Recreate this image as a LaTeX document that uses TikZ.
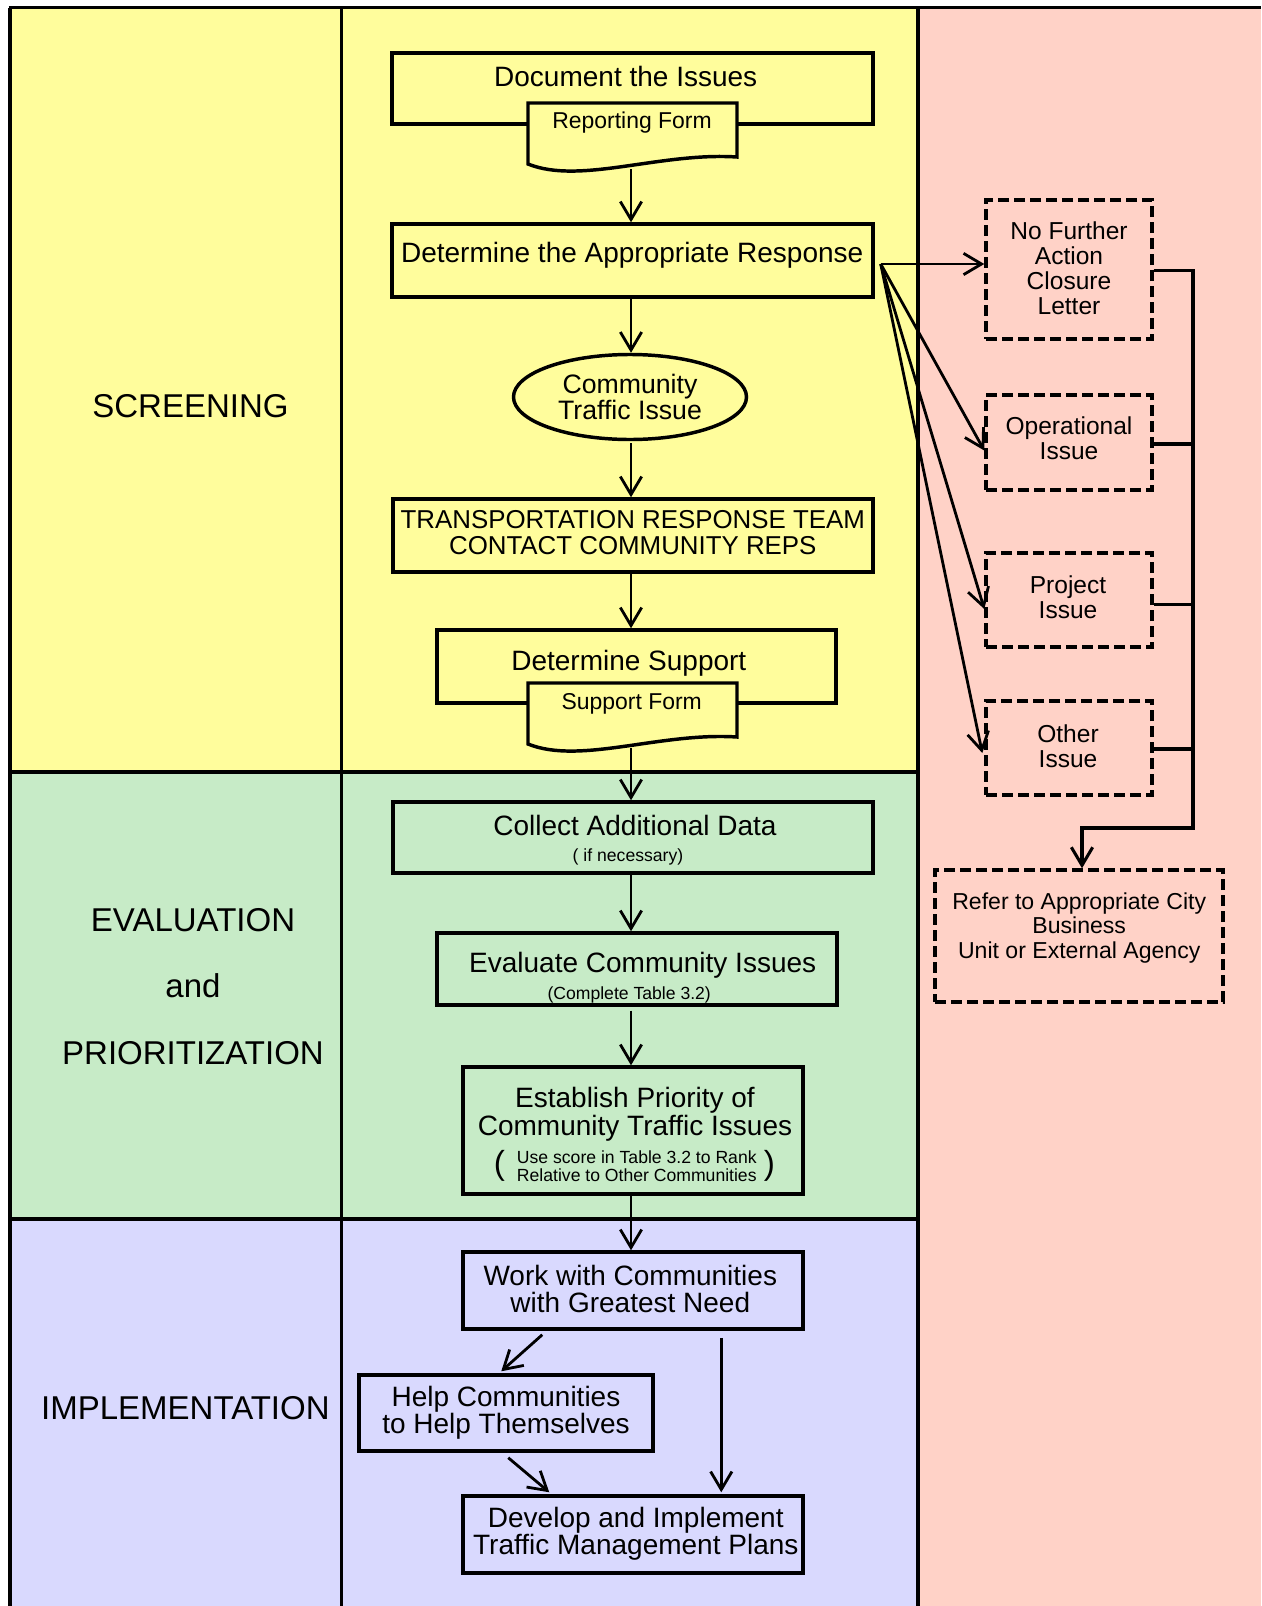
\documentclass[tikz,border=0pt]{standalone}
\usepackage{fontspec}
\setmainfont{Liberation Sans}[Ligatures=NoCommon]
\usetikzlibrary{arrows.meta,shapes.geometric,fit,calc}
\definecolor{cY}{HTML}{FFFD9C}
\definecolor{cG}{HTML}{C7EBC7}
\definecolor{cL}{HTML}{D9D9FE}
\definecolor{cP}{HTML}{FFD2C7}
\begin{document}
\begin{tikzpicture}[x=0.75pt,y=-0.75pt,
  frame/.style={line width=2.4pt},
  box/.style={draw, line width=2.6pt, inner sep=0pt},
  dbox/.style={draw, line width=2.6pt, dash pattern=on 8pt off 4pt, inner sep=0pt},
  arr/.style={line width=2.1pt, -{Straight Barb[length=13.5pt,width=16pt]}},
  conn/.style={line width=2.3pt},
  lbl/.style={font=\fontsize{24.75}{50}\selectfont, align=center, inner sep=0pt},
  mtxt/.style={font=\fontsize{21}{20.5}\selectfont, align=center, inner sep=0pt},
  ftxt/.style={font=\fontsize{17.2}{17.2}\selectfont, align=center, inner sep=0pt},
  stxt/.style={font=\fontsize{13.2}{13.3}\selectfont, align=center, inner sep=0pt},
  side/.style={font=\fontsize{18.4}{18.75}\selectfont, align=center, inner sep=0pt},
]
\useasboundingbox (0,0) rectangle (1261,1606);
% ---- backgrounds
\fill[cY] (10,7) rectangle (918,772);
\fill[cG] (10,772) rectangle (918,1219);
\fill[cL] (10,1219) rectangle (918,1606);
\fill[cP] (918,7) rectangle (1261,1606);
% ---- frame lines
\draw[frame] (8.5,7.5) -- (1261,7.5);
\draw[frame] (10,7.5) -- (10,1606);
\draw[frame] (341.5,7.5) -- (341.5,1606);
\draw[frame] (918,7.5) -- (918,1606);
\draw[frame] (10,772) -- (918,772);
\draw[frame] (10,1219) -- (918,1219);
% ---- phase labels
\node[lbl] (lscr) at (190.5,405.7) {SCREENING};
\node[lbl] (leval) at (193,986.5) {EVALUATION\\and\\PRIORITIZATION};
\node[lbl] (limp) at (185.4,1408.5) {IMPLEMENTATION};
% ---- main column boxes
\coordinate (ax) at (631,0);
\node[box, fit={(392,53) (873,124)}] (b1) {};
\draw[line width=2.6pt, fill=cY] (528,103) -- (737,103) -- (737,157)
   .. controls (660,152) and (580,185) .. (528,164) -- cycle;
\node[fit={(528,103) (737,164)}, inner sep=0pt] (rf) {};
\node[mtxt] (t1) at (625.7,76.7) {Document the Issues};
\node[ftxt] (t1f) at (632,123) {Reporting Form};

\node[box, fit={(392,224) (873,297)}] (b2) {};
\node[mtxt] (t2) at (632.2,255.3) {Determine the Appropriate Response};

\node[ellipse, draw, line width=2.6pt, minimum width=233*0.75pt, minimum height=85*0.75pt, inner sep=0pt,
      font=\fontsize{20}{20}\selectfont, align=center] (ell) at (630,397) {Community\\Traffic Issue};

\node[box, fit={(393,499) (873,572)}] (b3) {};
\node[font=\fontsize{19.4}{19.5}\selectfont, align=center, inner sep=0pt] (t3) at (632.8,533)
   {TRANSPORTATION RESPONSE TEAM\\CONTACT COMMUNITY REPS};

\node[box, fit={(437,630) (836,703)}] (b4) {};
\draw[line width=2.6pt, fill=cY] (528,683) -- (737,683) -- (737,737)
   .. controls (660,732) and (580,765) .. (528,744) -- cycle;
\node[fit={(528,683) (737,744)}, inner sep=0pt] (sf) {};
\node[mtxt] (t4) at (628.8,663) {Determine Support};
\node[ftxt] (t4f) at (631.7,703.5) {Support Form};

\node[box, fit={(393,802) (873,873)}] (b5) {};
\node[mtxt] (t5) at (635,825) {Collect Additional Data};
\node[stxt] (t5s) at (628,856.5) {( if necessary)};

\node[box, fit={(437,933) (837,1005)}] (b6) {};
\node[mtxt] (t6) at (642.7,965) {Evaluate Community Issues};
\node[stxt] (t6s) at (629.2,995) {(Complete Table 3.2)};

\node[box, fit={(463,1067) (803,1194)}] (b7) {};
\node[font=\fontsize{21}{21.3}\selectfont, align=center, inner sep=0pt] (t7) at (635,1114)
   {Establish Priority of\\Community Traffic Issues};
\node[font=\fontsize{13.2}{13.3}\selectfont, align=left, anchor=west, inner sep=0pt] (t7s) at (516.7,1166.5)
   {Use score in Table 3.2 to Rank\\Relative to Other Communities};
\node[font=\fontsize{25}{25}\selectfont, inner sep=0pt] (p7l) at (499.3,1166) {(};
\node[font=\fontsize{25}{25}\selectfont, inner sep=0pt] (p7r) at (769.3,1166) {)};

\node[box, fit={(463,1252) (803,1329)}] (b8) {};
\node[font=\fontsize{21}{20}\selectfont, align=center, inner sep=0pt] (t8) at (630.3,1289)
   {Work with Communities\\with Greatest Need};

\node[box, fit={(359,1375) (653,1451)}] (b9) {};
\node[font=\fontsize{21}{20.5}\selectfont, align=center, inner sep=0pt] (t9) at (506,1412.5)
   {Help Communities\\to Help Themselves};

\node[box, fit={(463,1496) (803,1573)}] (b10) {};
\node[font=\fontsize{21}{20.5}\selectfont, align=center, inner sep=0pt] (t10) at (635.8,1534)
   {Develop and Implement\\Traffic Management Plans};

% ---- main column arrows
\draw[arr] ($(rf.south -| ax)+(0,5)$) -- (b2.north -| ax);
\draw[arr] (b2.south -| ax) -- (ell.north -| ax);
\draw[arr] ($(ell.south -| ax)+(0,2)$) -- (b3.north -| ax);
\draw[arr] (b3.south -| ax) -- (b4.north -| ax);
\draw[arr] ($(sf.south -| ax)+(0,4)$) -- (b5.north -| ax);
\draw[arr] (b5.south -| ax) -- (b6.north -| ax);
\draw[arr] ($(b6.south -| ax)+(0,4)$) -- (b7.north -| ax);
\draw[arr] (b7.south -| ax) -- (b8.north -| ax);
\draw[arr] ($(b8.south west)+(81,4)$) -- ($(b9.north west)+(144,-2)$);
\draw[arr] ($(b9.south west)+(151,5)$) -- ($(b10.north west)+(88,-2)$);
\draw[arr] ($(b8.south west)+(260,7)$) -- ($(b10.north west)+(260,-2)$);

% ---- right column boxes
\node[dbox, fit={(986,200) (1152,339)}] (r1) {};
\node[side] (s1) at (1069,268.4) {No Further\\Action\\Closure\\Letter};
\node[dbox, fit={(986,395) (1152,490)}] (r2) {};
\node[side] (s2) at (1069,438.5) {Operational\\Issue};
\node[dbox, fit={(986,553) (1152,647)}] (r3) {};
\node[side] (s3) at (1068,597.5) {Project\\Issue};
\node[dbox, fit={(986,701) (1152,795)}] (r4) {};
\node[side] (s4) at (1068,746) {Other\\Issue};
\node[dbox, fit={(935,870) (1223,1002)}] (r5) {};
\node[font=\fontsize{17.3}{18.5}\selectfont, align=center, inner sep=0pt] (s5) at (1079.2,927.7)
   {Refer to Appropriate City\\Business\\Unit or External Agency};

% ---- fan arrows
\coordinate (fan) at ($(b2.east)+(6,3.5)$);
\draw[arr] (fan) -- (r1.west |- fan);
\draw[arr] (fan) -- ($(r2.west)+(0,8)$);
\draw[arr] (fan) -- ($(r3.west)+(0,9)$);
\draw[arr] (fan) -- ($(r4.west)+(-2,5)$);

% ---- collector bus
\coordinate (busb) at (1193,828);
\draw[conn, -{Straight Barb[length=13.5pt,width=16pt]}] ($(r1.east)+(0,1)$) -| (busb) -| ($(r5.north)+(3,0)$);
\draw[conn] ($(r2.east)+(0,1.5)$) -- ($(r2.east -| busb)+(0,1.5)$);
\draw[conn] ($(r3.east)+(0,4.5)$) -- ($(r3.east -| busb)+(0,4.5)$);
\draw[conn] ($(r4.east)+(0,1)$) -- ($(r4.east -| busb)+(0,1)$);
\end{tikzpicture}
\end{document}
